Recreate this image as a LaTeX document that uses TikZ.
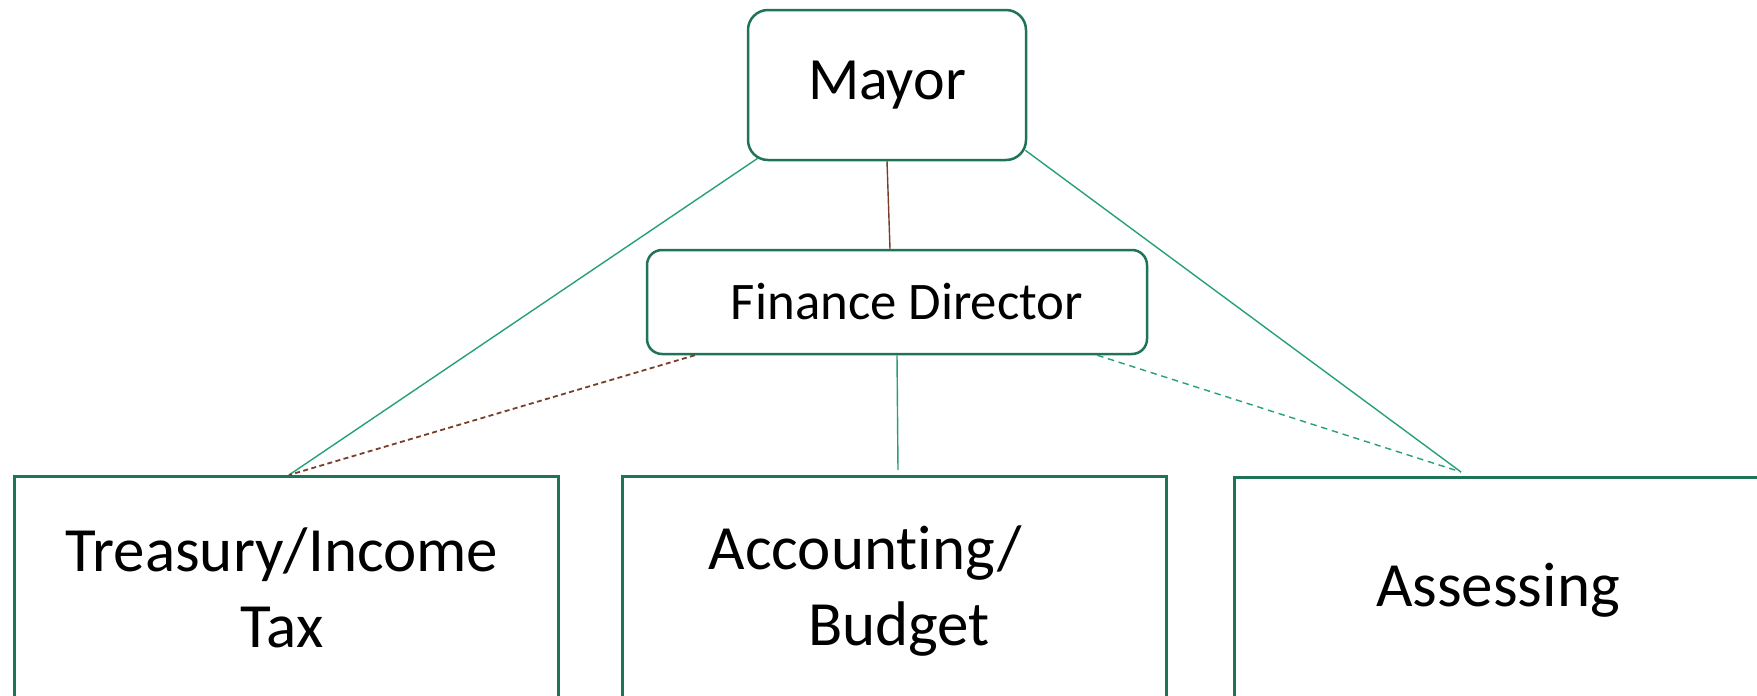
\documentclass[tikz,border=0pt]{standalone}
\usepackage{fontspec}
\setmainfont{Carlito}[Ligatures=NoCommon]
\definecolor{boxgreen}{RGB}{30,115,88}
\definecolor{linkgreen}{RGB}{38,160,120}
\definecolor{linkbrown}{RGB}{120,62,42}
\tikzset{
  headbox/.style={draw=boxgreen, line width=1.25pt, rounded corners=10pt, fill=white},
  deptbox/.style={draw=boxgreen, line width=1.25pt, anchor=north west, minimum width=272pt, minimum height=180pt},
  depttext/.style={anchor=base, inner sep=0pt, align=center, font=\fontsize{31.5}{38}\selectfont},
  greenlink/.style={draw=linkgreen, line width=0.7pt},
  brownlink/.style={draw=linkbrown, line width=0.7pt},
}
\begin{document}
\begin{tikzpicture}[x=0.5pt,y=0.5pt,yscale=-1,xscale=1]
  \useasboundingbox (0,0) rectangle (1757,696);
  %boxes
  \node[deptbox] (treasury) at (13,475) {};
  \node[deptbox] (accounting) at (621,475) {};
  \node[deptbox] (assessing) at (1233,476) {};
  \node[headbox, minimum width=139pt, minimum height=75pt, font=\fontsize{30}{36}\selectfont] (mayor) at (887,85) {Mayor};
  \node[headbox, rounded corners=7.5pt, minimum width=250pt, minimum height=52pt, font=\fontsize{26.4}{32}\selectfont] (finance) at (897,302) {\hspace*{10pt}Finance Director};
  % Text of the departments (base = last line)
  \node[depttext] (treasurytext) at (282,647) {Treasury/Income\\Tax};
  \node[depttext] (accountingtext) at (899,645) {Accounting/\rule{34pt}{0pt}\\Budget};
  \node[depttext] (assessingtext) at (1498,606) {Assessing};
  % join points (yshift is flipped by yscale=-1)
  \coordinate (mayorleft) at ([xshift=5.5pt,yshift=-1.5pt]mayor.south west);
  \coordinate (mayorright) at ([xshift=-1pt,yshift=-5.5pt]mayor.south east);
  \coordinate (treasuryjoin) at ([xshift=138pt]treasury.north west);
  \coordinate (accountingjoin) at ([xshift=138.5pt,yshift=-2.5pt]accounting.north west);
  \coordinate (assessingjoin) at ([xshift=114pt,yshift=-2pt]assessing.north west);
  % links
  \draw[brownlink] (mayor.south) -- ([xshift=-3.5pt]finance.north);
  \draw[greenlink] (mayorleft) -- (treasuryjoin);
  \draw[greenlink] (mayorright) -- (assessingjoin);
  \draw[brownlink, line width=0.9pt, dash pattern=on 2.5pt off 1.7pt] ([xshift=24.5pt]finance.south west) -- (treasuryjoin);
  \draw[greenlink] (finance.south) -- (accountingjoin);
  \draw[greenlink, dash pattern=on 3.2pt off 2.4pt] ([xshift=-25.5pt]finance.south east) -- (assessingjoin);
\end{tikzpicture}
\end{document}
